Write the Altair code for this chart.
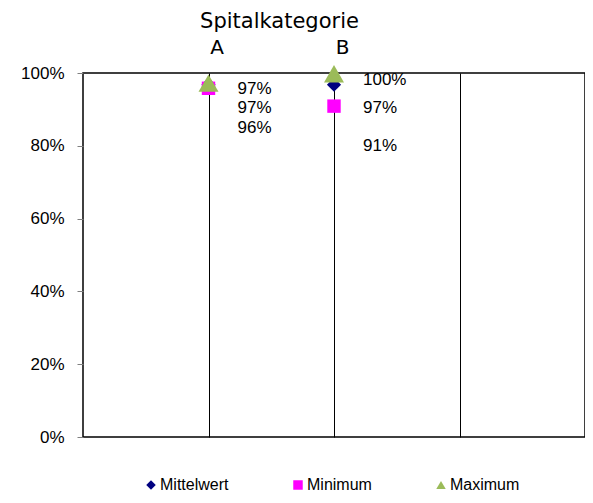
import altair as alt
import pandas as pd

# Data
categories = ["A", "B"]
axis_categories = ["A", "B", ""]
series = ["Mittelwert", "Minimum", "Maximum"]
mittelwert = [0.968, 0.968]
minimum = [0.958, 0.909]
maximum = [0.972, 0.998]

colors = ["#000080", "#FF00FF", "#9BBB59"]
shapes = ["diamond", "square", "triangle-up"]
sizes = [200, 180, 400]

rows = []
for i, c in enumerate(categories):
    for k, (s, vals) in enumerate(zip(series, [mittelwert, minimum, maximum])):
        rows.append({"cat": c, "series": s, "value": vals[i]})
df = pd.DataFrame(rows)

x_enc = alt.X(
    "cat:N",
    scale=alt.Scale(type="point", domain=axis_categories, padding=1),
    axis=alt.Axis(
        orient="top", grid=True, gridColor="black", gridOpacity=1, gridWidth=1,
        ticks=False, domain=False, labelAngle=0,
        labelFont="DejaVu Sans", labelFontSize=20, labelColor="black",
        labelPadding=20, labelOffset=8, labelBaseline="alphabetic",
        title="Spitalkategorie", titleFont="DejaVu Sans", titleFontSize=21,
        titleFontWeight="normal", titleColor="black", titlePadding=6,
        titleX=196, titleAlign="center",
    ),
)
y_enc = alt.Y(
    "value:Q",
    scale=alt.Scale(domain=[0, 1]),
    axis=alt.Axis(
        values=[0, 0.2, 0.4, 0.6, 0.8, 1.0], format=".0%", grid=False, domain=False,
        tickColor="#808080", tickSize=6, labelFont="Liberation Sans", labelFontSize=17,
        labelColor="black", labelPadding=13, title=None,
    ),
)

legend = alt.Legend(
    orient="none", legendX=60, legendY=404, direction="horizontal", title=None,
    labelFont="Liberation Sans", labelFontSize=16, labelColor="black",
    symbolSize=90, columnPadding=61, labelOffset=1, symbolStrokeWidth=0,
)

base = alt.Chart(df)


def point_layer(idx):
    name = series[idx]
    return base.transform_filter(alt.datum.series == name).mark_point(
        filled=True, opacity=1, size=sizes[idx]
    ).encode(
        x=x_enc,
        y=y_enc,
        color=alt.Color("series:N", scale=alt.Scale(domain=series, range=colors), legend=legend),
        shape=alt.Shape("series:N", scale=alt.Scale(domain=series, range=shapes), legend=legend),
    )


def label_layer(name, dy):
    return base.transform_filter(alt.datum.series == name).mark_text(
        align="left", baseline="middle", dx=29, dy=dy,
        font="Liberation Sans", fontSize=17, color="black",
    ).encode(x=x_enc, y=y_enc, text=alt.Text("value:Q", format=".0%"))


chart = alt.layer(
    point_layer(0),
    point_layer(1),
    point_layer(2),
    label_layer("Maximum", 6),
    label_layer("Mittelwert", 23),
    label_layer("Minimum", 40),
).properties(
    width=502, height=364,
    autosize=alt.AutoSizeParams(type="none"),
    padding={"left": 75, "top": 65, "right": 0, "bottom": 58},
).configure_view(stroke="black", strokeWidth=1.5)

chart.save("out.html", embed_options={"renderer": "svg", "actions": False})
